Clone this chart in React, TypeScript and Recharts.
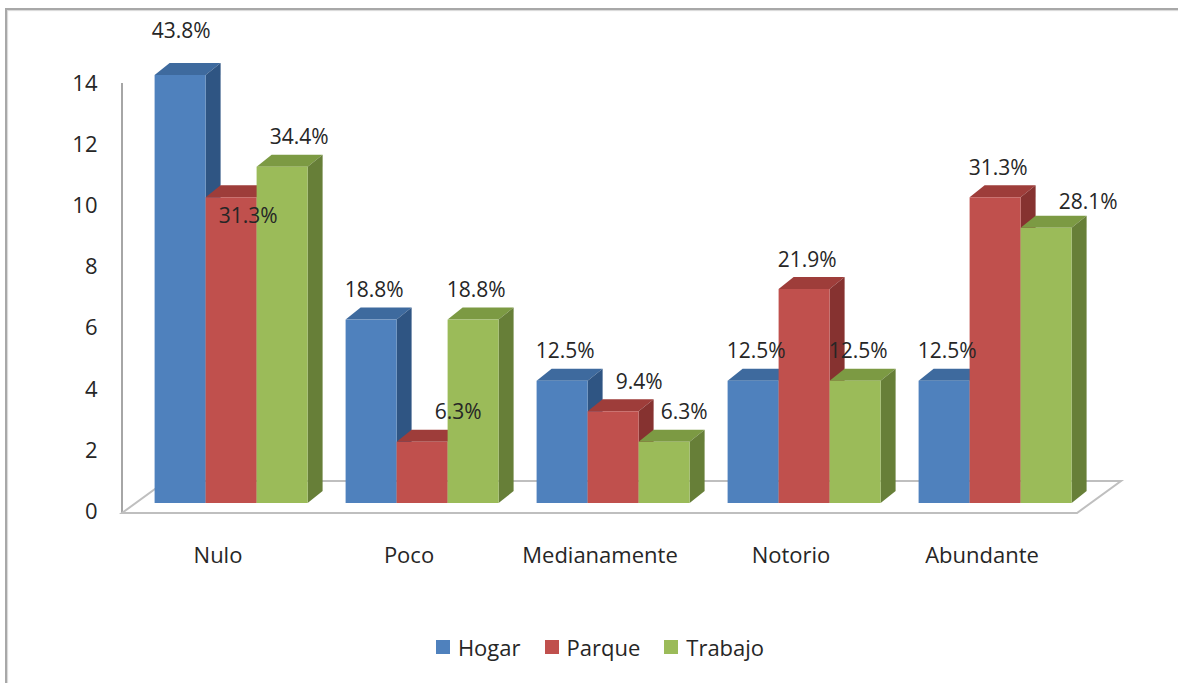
import { BarChart, Bar, XAxis, YAxis, ReferenceArea, LabelList } from 'recharts';

const categories = ['Nulo', 'Poco', 'Medianamente', 'Notorio', 'Abundante'];
const hogar = [14, 6, 4, 4, 4];
const parque = [10, 2, 3, 7, 10];
const trabajo = [11, 6, 2, 4, 9];
const yTicks = [0, 2, 4, 6, 8, 10, 12, 14];

const series = [
  { key: 'hogar', name: 'Hogar', values: hogar, front: '#4F81BD', top: '#3E6A9E', side: '#2F5583' },
  { key: 'parque', name: 'Parque', values: parque, front: '#C0504D', top: '#9E3D3A', side: '#863230' },
  { key: 'trabajo', name: 'Trabajo', values: trabajo, front: '#9BBB59', top: '#7C9A43', side: '#677F38' },
];

// excel moved a few labels to avoid collisions
const labelNudge: Record<string, [number, number]> = {
  'hogar-0': [-2, -15],
  'parque-0': [14, 48],
  'trabajo-0': [14, 0],
  'parque-1': [33, 0],
  'parque-2': [23, 0],
  'trabajo-2': [17, 0],
  'trabajo-4': [39, 4],
};

const data = categories.map((c, i) => {
  const row: any = { category: c };
  series.forEach((s) => {
    row[s.key] = s.values[i];
  });
  return row;
});

const pct = (values: number[], v: number) => {
  const sum = values.reduce((a, b) => a + b, 0);
  return ((v / sum) * 100).toFixed(1) + '%';
};

const FONT = '"Open Sans", sans-serif';
const DX = 15;
const DY = 12;

const Box3D = (props: any) => {
  const { x, y, width, height, colors } = props;
  if (!height) return null;
  return (
    <g>
      <path d={`M${x},${y} L${x + DX},${y - DY} L${x + width + DX},${y - DY} L${x + width},${y} Z`} fill={colors.top} />
      <path
        d={`M${x + width},${y} L${x + width + DX},${y - DY} L${x + width + DX},${y + height - DY} L${x + width},${y + height} Z`}
        fill={colors.side}
      />
      <rect x={x} y={y} width={width} height={height} fill={colors.front} />
    </g>
  );
};

// floor + vertical axis line, sized from the plot area
const Floor = (props: any) => {
  const { x, y, width, height } = props;
  const fx = x - 13.5;
  const fy = y + height + 10;
  const w = width;
  return (
    <g>
      <line x1={fx} y1={y + 8} x2={fx} y2={fy} stroke="#A6A6A6" strokeWidth={2} />
      <path
        d={`M${fx},${fy} L${fx + w},${fy} L${fx + w + 44},${fy - 32} L${fx + 44},${fy - 32} Z`}
        fill="#FFFFFF"
        stroke="#BFBFBF"
        strokeWidth={2}
      />
    </g>
  );
};

const YTick = (props: any) => {
  const { x, y, payload } = props;
  return (
    <text x={x} y={y + 10} textAnchor="end" dominantBaseline="middle" fill="#262626" fontSize={22} fontFamily={FONT}>
      {payload.value}
    </text>
  );
};

const XTick = (props: any) => {
  const { x, y, payload } = props;
  return (
    <text x={x - 13} y={y + 54} textAnchor="middle" dominantBaseline="middle" fill="#262626" fontSize={22} fontFamily={FONT}>
      {payload.value}
    </text>
  );
};

const makeLabel = (s: (typeof series)[number]) => (props: any) => {
  const { x, y, width, index, value } = props;
  const n = labelNudge[`${s.key}-${index}`] || [0, 0];
  return (
    <text
      x={x + width / 2 + 3 + n[0]}
      y={y - 28 + n[1]}
      textAnchor="middle"
      dominantBaseline="middle"
      fill="#262626"
      fontSize={21}
      fontFamily={FONT}
    >
      {pct(s.values, value)}
    </text>
  );
};

export default function App() {
  return (
    <div style={{ position: 'fixed', left: 0, top: 0, width: 1178, height: 683, background: '#fff', overflow: 'hidden' }}>
      <div
        style={{
          position: 'absolute',
          left: 5,
          top: 8,
          width: 1200,
          height: 700,
          borderLeft: '2px solid #A8A8A8',
          borderTop: '2px solid #A8A8A8',
          boxShadow: 'inset 1px 1px 1px #D8D8D8',
        }}
      />
      <div style={{ position: 'absolute', left: 0, top: 0 }}>
        <BarChart
          width={1178}
          height={683}
          data={data}
          margin={{ top: 75, right: 87.5, bottom: 140, left: 75.5 }}
          barCategoryGap="10%"
          barGap={0}
        >
          <ReferenceArea y1={0} y2={14} shape={<Floor />} fill="none" ifOverflow="visible" />
          <XAxis
            dataKey="category"
            axisLine={false}
            tickLine={false}
            tickSize={0}
            tickMargin={0}
            height={40}
            tick={<XTick />}
            interval={0}
          />
          <YAxis
            domain={[0, 14]}
            ticks={yTicks}
            axisLine={false}
            tickLine={false}
            tickSize={0}
            tickMargin={38}
            width={60}
            tick={<YTick />}
            interval={0}
          />
          {series.map((s) => (
            <Bar
              key={s.key}
              dataKey={s.key}
              name={s.name}
              fill={s.front}
              isAnimationActive={false}
              shape={(p: any) => <Box3D {...p} colors={s} />}
            >
              <LabelList dataKey={s.key} content={makeLabel(s)} />
            </Bar>
          ))}
        </BarChart>
      </div>
      <div
        style={{
          position: 'absolute',
          left: 0,
          width: 1200,
          top: 632,
          display: 'flex',
          justifyContent: 'center',
          gap: 24,
          fontFamily: FONT,
          fontSize: 22,
          color: '#262626',
        }}
      >
        {series.map((s) => (
          <div key={s.key} style={{ display: 'flex', alignItems: 'center' }}>
            <span style={{ width: 14, height: 14, background: s.front, marginRight: 8, display: 'inline-block' }} />
            <span>{s.name}</span>
          </div>
        ))}
      </div>
    </div>
  );
}
